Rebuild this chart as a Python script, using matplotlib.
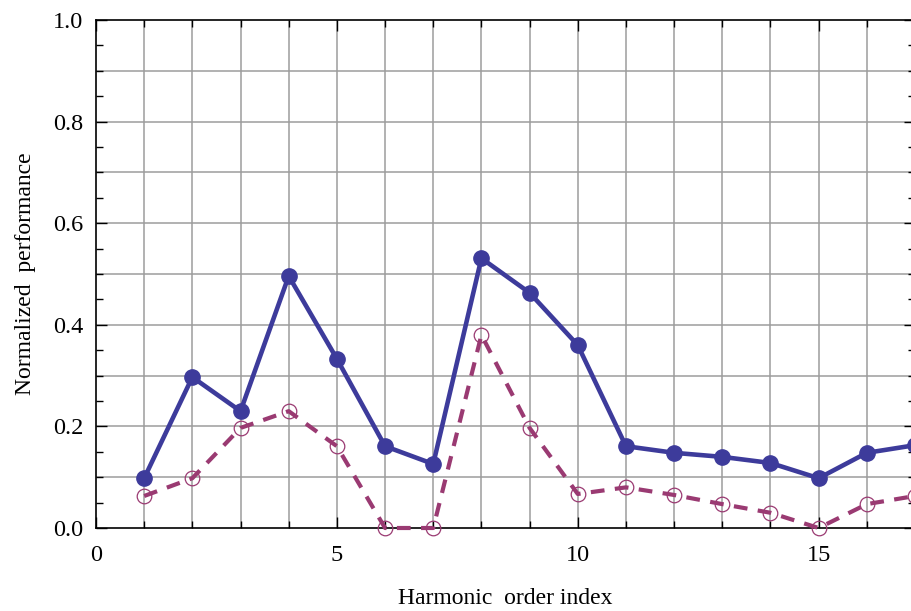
import numpy as np
import matplotlib.pyplot as plt
from matplotlib.ticker import MultipleLocator

plt.rcParams["font.family"] = ["Liberation Serif", "DejaVu Serif"]
plt.rcParams["mathtext.fontset"] = "stix"

# harmonic order and normalized performance of the two schemes
orders = np.arange(1, 18)
perf_a = [0.098, 0.297, 0.23, 0.496, 0.333, 0.161, 0.126, 0.531, 0.463,
          0.36, 0.161, 0.148, 0.14, 0.128, 0.098, 0.148, 0.163]
perf_b = [0.063, 0.098, 0.197, 0.23, 0.161, 0.0, 0.0, 0.38, 0.197,
          0.067, 0.08, 0.065, 0.047, 0.03, 0.0, 0.047, 0.063]

blue = "#3d3b9b"
plum = "#9a3a72"

fig = plt.figure(figsize=(9.11, 6.11), dpi=100)
ax = fig.add_axes([96 / 911, 83 / 611, 819 / 911, 508 / 611])

ax.plot(orders, perf_a, color=blue, lw=3.3, marker="o", ms=11,
        mfc=blue, mec=blue, zorder=4, clip_on=False)
ax.plot(orders, perf_b, color=plum, lw=3.0, ls=(0, (3.3, 2.5)), marker="o",
        ms=10.5, mfc="none", mec=plum, mew=0.9, zorder=3, clip_on=False)

ax.set_xlim(0, 17)
ax.set_ylim(0, 1.0)
ax.xaxis.set_major_locator(MultipleLocator(5))
ax.xaxis.set_minor_locator(MultipleLocator(1))
ax.yaxis.set_major_locator(MultipleLocator(0.2))
ax.yaxis.set_minor_locator(MultipleLocator(0.05))
ax.yaxis.set_major_formatter(plt.FormatStrFormatter("%.1f"))

# grid on every integer order and every 0.1
for x in range(1, 17):
    ax.axvline(x, color="#9c9c9c", lw=1.1, zorder=1)
for y in np.arange(0.1, 1.0, 0.1):
    ax.axhline(y, color="#9c9c9c", lw=1.1, zorder=1)

ax.tick_params(which="both", direction="in", top=True, right=True,
               labelsize=17.5, width=1.0, color="black")
ax.tick_params(axis="x", pad=12)
ax.tick_params(axis="y", pad=9)
ax.tick_params(which="major", length=8)
ax.tick_params(which="minor", length=5)
for s in ax.spines.values():
    s.set_linewidth(1.2)

ax.set_xlabel("Harmonic  order index", fontsize=17, labelpad=16)
ax.set_ylabel("Normalized  performance", fontsize=17, labelpad=12)

fig.savefig("out.png", dpi=100)
